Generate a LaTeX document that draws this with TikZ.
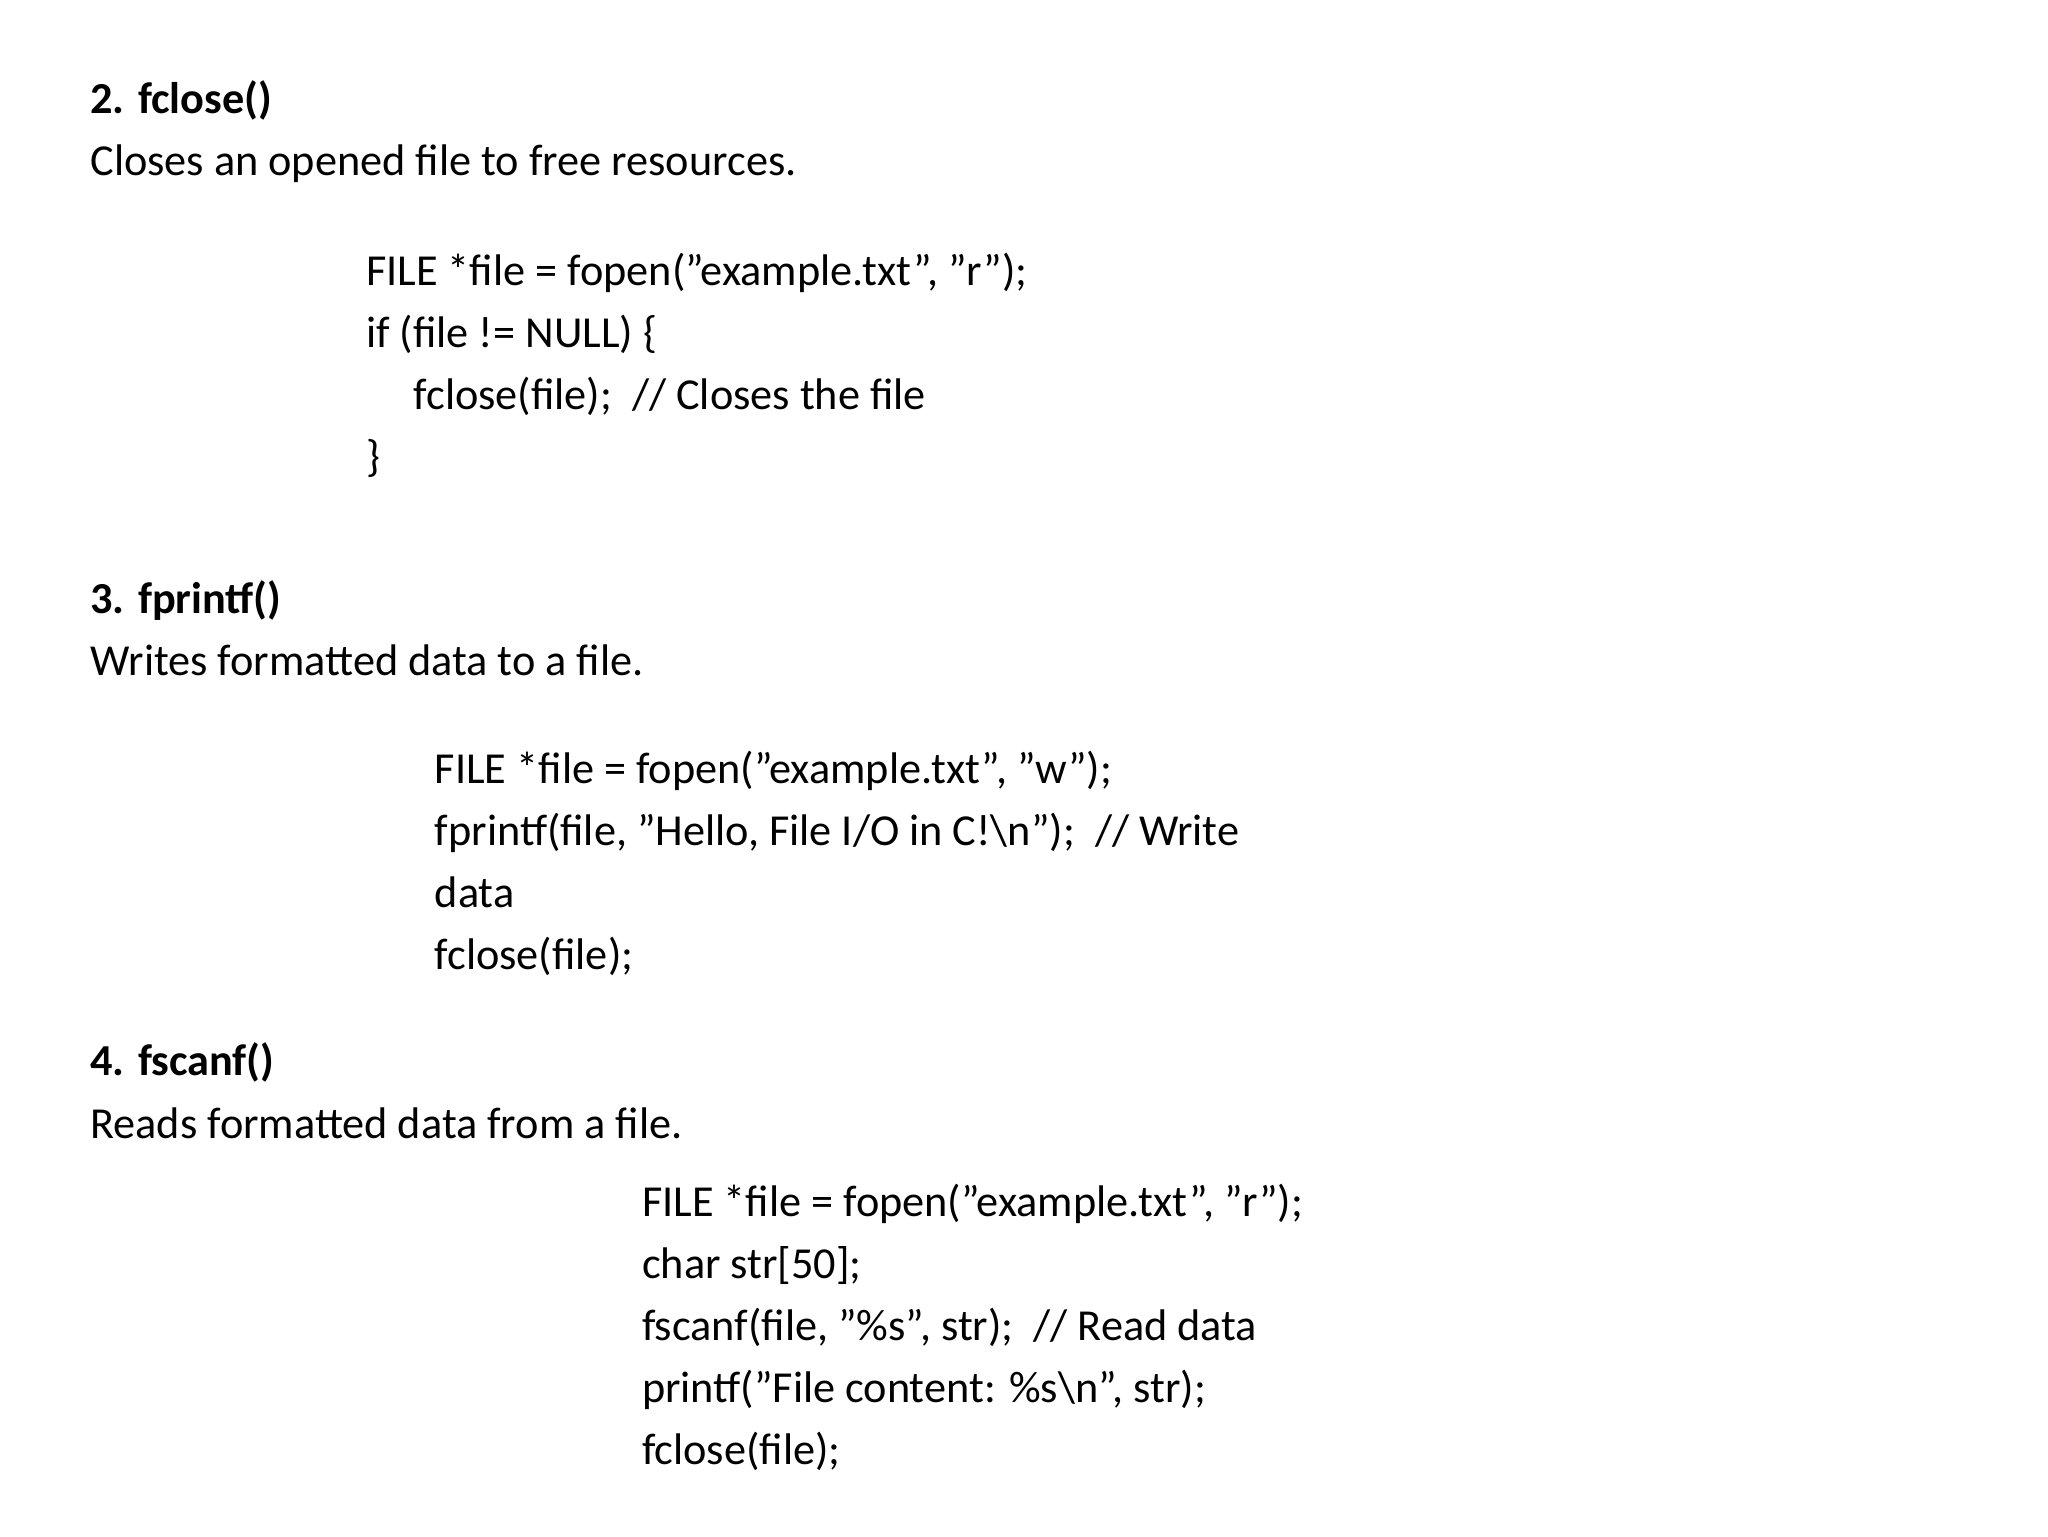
\documentclass[tikz,border=0pt]{standalone}
\usepackage{fontspec}
\setmainfont{Carlito}
\begin{document}
\begin{tikzpicture}[x=0.013196cm,y=-0.013196cm,
  t/.style={anchor=base west,inner sep=0pt,font=\fontsize{12.6}{15}\selectfont},
  h/.style={t,font=\fontsize{12.6}{15}\selectfont\bfseries}]
\useasboundingbox (0,0) rectangle (1552,1164);
\node[h] (h2) at (68,86) {2. fclose()};
\node[t] (d2) at (68,133) {Closes an opened file to free resources.};
\node[t] (a1) at (277,216) {FILE *file = fopen("example.txt", "r");};
\node[t] (a2) at (277,263) {if (file != NULL) \{};
\node[t] (a3) at (313,310) {fclose(file);\ \ // Closes the file};
\node[t] (a4) at (277,357) {\}};
\node[h] (h3) at (68,465) {3. fprintf()};
\node[t] (d3) at (68,512) {Writes formatted data to a file.};
\node[t] (b1) at (329,594) {FILE *file = fopen("example.txt", "w");};
\node[t] (b2) at (329,641) {fprintf(file, "Hello, File I/O in C!\textbackslash n");\ \ // Write};
\node[t] (b3) at (329,688) {data};
\node[t] (b4) at (329,735) {fclose(file);};
\node[h] (h4) at (68,815) {4. fscanf()};
\node[t] (d4) at (68,863) {Reads formatted data from a file.};
\node[t] (c1) at (486,922) {FILE *file = fopen("example.txt", "r");};
\node[t] (c2) at (486,969) {char str[50];};
\node[t] (c3) at (486,1016) {fscanf(file, "\%s", str);\ \ // Read data};
\node[t] (c4) at (486,1063) {printf("File content: \%s\textbackslash n", str);};
\node[t] (c5) at (486,1110) {fclose(file);};
\end{tikzpicture}
\end{document}
